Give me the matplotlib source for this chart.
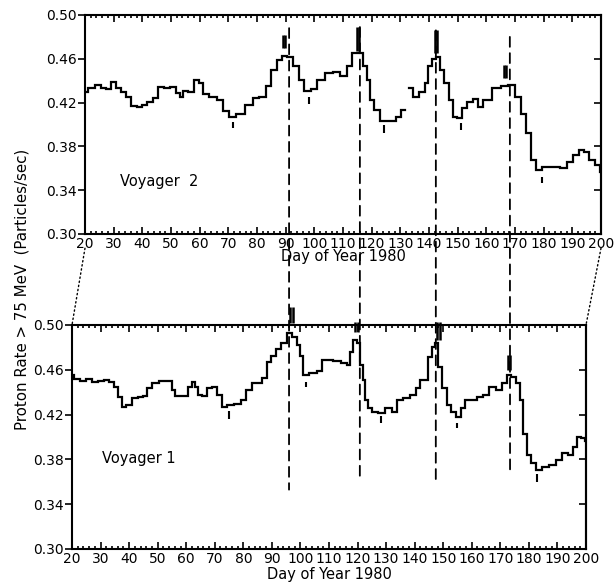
import numpy as np
import matplotlib
matplotlib.use("Agg")
import matplotlib.pyplot as plt
from matplotlib.patches import ConnectionPatch
from matplotlib.ticker import MultipleLocator, FixedLocator

# ---------------- data ----------------
v2_day = [20, 22.3, 24.6, 26.4, 28.1, 29.9, 31.6, 33.4, 35.1, 36.8, 39.2, 40.9, 42.7, 44.4,
          46.8, 48.5, 50.8, 52.5, 53.7, 54.9, 57.2, 58.9, 60.7, 61.9, 64.7, 67.1, 69.4, 71.2,
          74.1, 77.6, 79.3, 82.2, 84.0, 85.7, 88.0, 89.2, 91.5, 93.8, 95.6, 97.3, 100.2, 102.0,
          105.5, 107.8, 110.1, 112.4, 114.2, 116.5, 117.7, 118.8, 119.7, 121.7, 124.0, 127.5,
          129.3, 131.0, 132.4, 133.9, 135.1, 138.0, 139.2, 140.3, 141.5, 143.2, 144.4, 146.1,
          147.9, 149.0, 150.8, 152.5, 154.3, 156.6, 157.8, 160.1, 163.6, 166.5, 168.8, 171.1,
          172.9, 174.6, 176.4, 178.1, 181.0, 184.5, 186.8, 189.2, 191.5, 193.2, 195.0, 196.7,
          199.0, 200.0]
v2_rate = [0.430, 0.433, 0.436, 0.433, 0.432, 0.439, 0.433, 0.430, 0.425, 0.417, 0.416, 0.418,
           0.421, 0.424, 0.434, 0.433, 0.434, 0.429, 0.425, 0.431, 0.430, 0.441, 0.438, 0.428,
           0.425, 0.422, 0.412, 0.407, 0.410, 0.418, 0.424, 0.425, 0.435, 0.450, 0.459, 0.463,
           0.462, 0.453, 0.441, 0.431, 0.432, 0.441, 0.447, 0.448, 0.444, 0.453, 0.465, 0.465,
           0.453, 0.441, 0.422, 0.413, 0.403, 0.403, 0.407, 0.413, np.nan, 0.433, 0.425, 0.430,
           0.438, 0.453, 0.460, 0.462, 0.450, 0.438, 0.422, 0.407, 0.406, 0.415, 0.421, 0.423,
           0.416, 0.422, 0.433, 0.435, 0.436, 0.425, 0.410, 0.392, 0.368, 0.358, 0.361, 0.361,
           0.360, 0.366, 0.372, 0.377, 0.375, 0.368, 0.363, 0.357]

v1_day = [20, 21.6, 24, 25.7, 28, 30.4, 32.1, 33.9, 35.6, 36.8, 38.2, 39.7, 42.1, 43.8, 45.6,
          46.7, 49.1, 52.0, 54.3, 55.5, 56.7, 60.2, 61.3, 62.5, 63.7, 64.8, 66.6, 68.3, 70.1,
          71.8, 73.6, 75.3, 78.2, 80.0, 81.7, 84.1, 85.8, 87.6, 88.7, 90.5, 92.2, 94.0, 96.3,
          98.1, 99.2, 100.4, 101.6, 104.5, 106.8, 108.6, 110.3, 112.7, 115.6, 116.8, 117.9,
          119.1, 120.3, 121.4, 122.2, 123.2, 124.3, 126.1, 128.4, 130.8, 133.1, 134.8, 137.2,
          139.5, 141.3, 142.4, 144.2, 145.3, 146.5, 147.7, 148.6, 150.6, 151.8, 153.5, 155.3,
          157.0, 158.2, 160.5, 162.9, 165.2, 166.9, 169.9, 171.6, 172.8, 174.5, 176.3, 177.5,
          178.6, 179.8, 181.5, 183.3, 185.6, 188.5, 190.3, 192.6, 195.0, 196.1, 197.3, 199.0,
          200.0]
v1_rate = [0.455, 0.4515, 0.450, 0.4515, 0.449, 0.450, 0.451, 0.449, 0.445, 0.436, 0.4265,
           0.4285, 0.4345, 0.436, 0.4365, 0.4435, 0.448, 0.450, 0.450, 0.442, 0.4365, 0.4365,
           0.445, 0.449, 0.445, 0.4375, 0.4365, 0.4435, 0.445, 0.4375, 0.427, 0.4285, 0.4295,
           0.433, 0.442, 0.448, 0.448, 0.4525, 0.467, 0.472, 0.479, 0.4835, 0.493, 0.4895,
           0.482, 0.472, 0.4555, 0.457, 0.459, 0.4685, 0.469, 0.468, 0.466, 0.464, 0.476,
           0.4865, 0.4835, 0.464, 0.451, 0.433, 0.4255, 0.4225, 0.421, 0.4255, 0.4225, 0.433,
           0.4345, 0.4375, 0.4435, 0.451, 0.451, 0.4715, 0.4805, 0.4835, 0.4625, 0.4435,
           0.4285, 0.4225, 0.418, 0.4255, 0.433, 0.433, 0.436, 0.4375, 0.445, 0.442, 0.448,
           0.4555, 0.454, 0.448, 0.433, 0.403, 0.384, 0.3765, 0.3705, 0.3735, 0.375, 0.3795,
           0.3855, 0.384, 0.3915, 0.400, 0.399, 0.396]

# event lines (dashed): day in top panel, day in bottom panel, start value (top), end value (bottom)
event_day_v2 = [91.2, 115.9, 142.4, 168.2]
event_day_v1 = [96.0, 120.8, 147.4, 173.4]
event_start_v2 = [0.488, 0.489, 0.486, 0.480]
event_end_v1 = [0.353, 0.360, 0.357, 0.368]

# heavy peak marks (double bars)
peak_day_v2 = [89.3, 115.2, 142.4, 166.4]
peak_lo_v2 = [0.470, 0.467, 0.465, 0.4425]
peak_hi_v2 = [0.4815, 0.489, 0.486, 0.4543]
peak_day_v1 = [96.8, 119.6, 148.3, 173.0]
peak_lo_v1 = [0.5015, 0.494, 0.4866, 0.4598]
peak_hi_v1 = [0.5163, 0.503, 0.503, 0.4732]

# small minimum marks
min_day_v2 = [71.6, 98.1, 124.3, 151.1, 179.5]
min_lo_v2 = [0.3965, 0.4187, 0.3922, 0.395, 0.3466]
min_hi_v2 = [0.4026, 0.4254, 0.3995, 0.401, 0.352]
min_day_v1 = [74.9, 101.8, 128.2, 154.9, 182.9]
min_lo_v1 = [0.4158, 0.445, 0.4122, 0.4083, 0.360]
min_hi_v1 = [0.4235, 0.449, 0.4188, 0.4128, 0.3667]

x_ticks = list(range(20, 201, 10))
y_ticks = [0.30, 0.34, 0.38, 0.42, 0.46, 0.50]
y_labels = ["0.30", "0.34", "0.38", "0.42", "0.46", "0.50"]

# ---------------- figure ----------------
plt.rcParams['font.family'] = ['DejaVu Sans']
fig = plt.figure(figsize=(6.16, 5.86), dpi=100)
W, H = 616, 586
ax1 = fig.add_axes([85 / W, 1 - 234 / H, (601 - 85) / W, (234 - 15) / H])
ax2 = fig.add_axes([72 / W, 1 - 549 / H, (586 - 72) / W, (549 - 325) / H])

lw_frame = 1.5
for ax, d, r, label, lx, ly in [(ax1, v2_day, v2_rate, "Voyager  2", 32.2, 0.3475),
                                (ax2, v1_day, v1_rate, "Voyager 1", 30.5, 0.381)]:
    ax.plot(d, r, color="black", lw=1.6, drawstyle="steps-mid", solid_joinstyle="miter")
    ax.set_xlim(20, 200)
    ax.set_ylim(0.30, 0.50)
    ax.xaxis.set_major_locator(FixedLocator(x_ticks))
    ax.xaxis.set_minor_locator(MultipleLocator(2))
    ax.set_xticklabels([str(t) for t in x_ticks])
    ax.yaxis.set_major_locator(FixedLocator(y_ticks))
    ax.set_yticklabels(y_labels)
    ax.tick_params(axis="x", which="both", direction="in", top=True, bottom=True,
                   width=1.2, labelsize=10, pad=2)
    ax.tick_params(axis="x", which="major", length=5)
    ax.tick_params(axis="x", which="minor", length=2.5)
    ax.tick_params(axis="y", which="major", direction="out", left=True, right=False,
                   length=5, width=1.2, labelsize=10, pad=1)
    sec = ax.secondary_yaxis("right")
    sec.yaxis.set_major_locator(FixedLocator(y_ticks))
    sec.tick_params(axis="y", direction="in", length=5, width=1.2, labelright=False)
    sec.spines["right"].set_linewidth(lw_frame)
    for s in ax.spines.values():
        s.set_linewidth(lw_frame)
    ax.set_xlabel("Day of Year 1980", fontsize=10.5, labelpad=-1)
    ax.text(lx, ly, label, fontsize=10.5, ha="left", va="center")

ax2.xaxis.labelpad = 1

# peak marks as double bars, minimum marks as single short ticks
for ax, pd_, lo, hi in [(ax1, peak_day_v2, peak_lo_v2, peak_hi_v2),
                        (ax2, peak_day_v1, peak_lo_v1, peak_hi_v1)]:
    pdays = np.asarray(pd_)
    ax.vlines(pdays - 0.35, lo, hi, color="black", lw=1.8, clip_on=False)
    ax.vlines(pdays + 0.45, lo, hi, color="black", lw=1.8, clip_on=False)
ax1.vlines(min_day_v2, min_lo_v2, min_hi_v2, color="black", lw=1.5)
ax2.vlines(min_day_v1, min_lo_v1, min_hi_v1, color="black", lw=1.5)

# dashed event lines crossing both panels
for dt, db, ys, ye in zip(event_day_v2, event_day_v1, event_start_v2, event_end_v1):
    cp = ConnectionPatch(xyA=(dt, ys), coordsA=ax1.transData,
                         xyB=(db, ye), coordsB=ax2.transData,
                         color="black", lw=1.3, linestyle=(0, (5.5, 3.5)))
    fig.add_artist(cp)

# dotted zoom connectors
for xa, xb in [(0.0, 0.0), (1.0, 1.0)]:
    cp = ConnectionPatch(xyA=(xa, -0.065), coordsA=ax1.transAxes,
                         xyB=(xb, 1.0), coordsB=ax2.transAxes,
                         color="black", lw=1.0, linestyle=(0, (1, 2)))
    fig.add_artist(cp)

fig.text(22 / W, 1 - 289 / H, "Proton Rate > 75 MeV  (Particles/sec)", rotation=90,
         ha="center", va="center", fontsize=10.8)

fig.savefig("out.png", dpi=100)
